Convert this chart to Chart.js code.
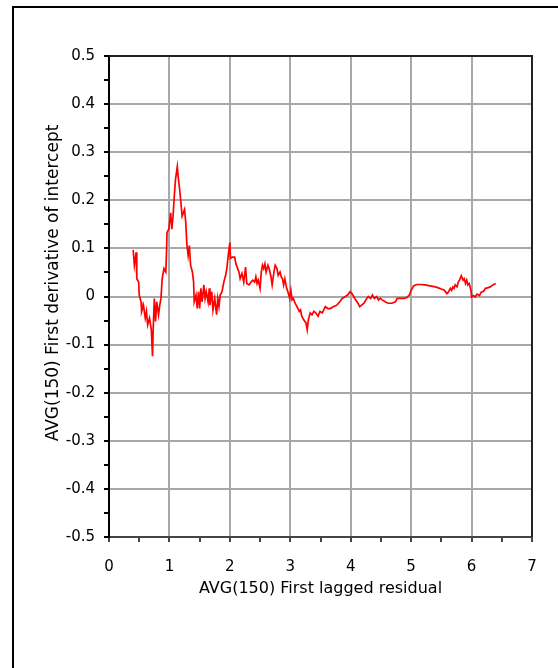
<!DOCTYPE html>
<html lang="en">
<head>
    <meta charset="UTF-8">
    <title>AVG(150) First derivative of intercept</title>
    <script src="https://cdn.jsdelivr.net/npm/chart.js"></script>
    <style>
        html, body { margin: 0; padding: 0; background: #fff; }
        .frame {
            position: absolute; left: 12px; top: 6px;
            width: 700px; height: 800px;
            border-left: 2px solid #000; border-top: 2px solid #000;
        }
        #chart { position: absolute; left: 0; top: 0; }
    </style>
</head>
<body>
    <div class="frame"></div>
    <canvas id="chart" width="558" height="668"></canvas>

    <script>
        // values
        const lagResidual = [
            0.40, 0.42, 0.45, 0.46, 0.49, 0.50, 0.53, 0.54, 0.57, 0.60, 0.62, 0.64, 0.67, 0.70, 0.72, 0.73,
            0.75, 0.77, 0.79, 0.82, 0.84, 0.86, 0.88, 0.91, 0.94, 0.95, 0.96, 0.99, 1.02, 1.04, 1.06, 1.08,
            1.10, 1.13, 1.15, 1.17, 1.19, 1.21, 1.25, 1.27, 1.29, 1.31, 1.33, 1.35, 1.38, 1.40, 1.41, 1.44,
            1.46, 1.48, 1.50, 1.52, 1.54, 1.57, 1.59, 1.61, 1.64, 1.66, 1.67, 1.70, 1.72, 1.75, 1.78, 1.80,
            1.82, 1.84, 1.87, 1.90, 1.93, 1.95, 1.97, 2.00, 2.01, 2.04, 2.08, 2.10, 2.13, 2.15, 2.17, 2.20,
            2.23, 2.26, 2.28, 2.32, 2.35, 2.38, 2.41, 2.43, 2.45, 2.47, 2.50, 2.52, 2.54, 2.56, 2.58, 2.60,
            2.63, 2.65, 2.68, 2.70, 2.73, 2.75, 2.78, 2.80, 2.83, 2.85, 2.87, 2.89, 2.91, 2.94, 2.96, 2.99,
            3.01, 3.03, 3.05, 3.08, 3.11, 3.15, 3.17, 3.19, 3.22, 3.26, 3.28, 3.30, 3.33, 3.36, 3.39, 3.42,
            3.46, 3.49, 3.53, 3.58, 3.62, 3.66, 3.72, 3.77, 3.82, 3.86, 3.91, 3.95, 3.99, 4.02, 4.05, 4.08,
            4.12, 4.15, 4.18, 4.22, 4.25, 4.29, 4.33, 4.36, 4.39, 4.43, 4.46, 4.49, 4.52, 4.57, 4.62, 4.68,
            4.74, 4.77, 4.81, 4.88, 4.93, 4.97, 5.00, 5.04, 5.09, 5.15, 5.23, 5.31, 5.40, 5.45, 5.51, 5.55,
            5.59, 5.62, 5.65, 5.67, 5.69, 5.71, 5.73, 5.76, 5.78, 5.80, 5.83, 5.86, 5.88, 5.90, 5.92, 5.94,
            5.96, 5.99, 6.00, 6.03, 6.06, 6.09, 6.13, 6.16, 6.20, 6.23, 6.26, 6.31, 6.35, 6.40
        ];
        const derivIntercept = [
            0.097, 0.065, 0.092, 0.037, 0.030, 0.003, -0.011, -0.031, -0.018, -0.045, -0.031, -0.059, -0.045, -0.069, -0.124, -0.073,
            -0.004, -0.052, -0.011, -0.038, -0.018, -0.004, 0.037, 0.058, 0.051, 0.085, 0.133, 0.140, 0.174, 0.140, 0.167, 0.208,
            0.243, 0.270, 0.243, 0.222, 0.195, 0.167, 0.181, 0.154, 0.106, 0.085, 0.106, 0.065, 0.051, 0.030, -0.011, 0.003,
            -0.025, 0.010, -0.025, 0.017, -0.011, 0.024, -0.004, 0.010, -0.011, 0.017, -0.018, 0.010, -0.028, -0.004, -0.038, -0.004,
            -0.021, 0.003, 0.010, 0.030, 0.044, 0.058, 0.082, 0.112, 0.079, 0.082, 0.082, 0.068, 0.058, 0.051, 0.037, 0.048,
            0.030, 0.061, 0.027, 0.024, 0.030, 0.034, 0.030, 0.041, 0.027, 0.034, 0.017, 0.051, 0.065, 0.058, 0.068, 0.051,
            0.065, 0.058, 0.041, 0.024, 0.051, 0.065, 0.058, 0.044, 0.051, 0.041, 0.037, 0.024, 0.037, 0.017, 0.010, -0.004,
            0.013, -0.007, -0.004, -0.014, -0.021, -0.031, -0.028, -0.041, -0.048, -0.055, -0.069, -0.048, -0.034, -0.038, -0.031, -0.034,
            -0.041, -0.031, -0.034, -0.021, -0.025, -0.025, -0.021, -0.018, -0.011, -0.004, 0.000, 0.003, 0.010, 0.006, 0.000, -0.007,
            -0.014, -0.021, -0.018, -0.014, -0.007, 0.000, -0.004, 0.003, -0.004, 0.000, -0.007, -0.004, -0.007, -0.011, -0.014, -0.014,
            -0.011, -0.004, -0.004, -0.004, -0.002, 0.003, 0.013, 0.022, 0.025, 0.025, 0.024, 0.022, 0.020, 0.018, 0.015, 0.013,
            0.006, 0.010, 0.017, 0.013, 0.020, 0.017, 0.024, 0.020, 0.030, 0.034, 0.043, 0.034, 0.037, 0.027, 0.034, 0.024,
            0.027, 0.013, -0.001, 0.002, -0.001, 0.005, 0.002, 0.009, 0.011, 0.017, 0.018, 0.020, 0.024, 0.027
        ];
        const xRange = [0, 7];
        const yRange = [-0.5, 0.5];
        const xTitle = 'AVG(150) First lagged residual';
        const yTitle = 'AVG(150) First derivative of intercept';

        const points = lagResidual.map((x, i) => ({ x: x, y: derivIntercept[i] }));
        const family = '"DejaVu Sans", Verdana, sans-serif';
        const tickFont = { family: family, size: 15 };

        // top and right edge of the plot box, plus the vertical axis title
        const plotBox = {
            id: 'plotBox',
            afterDraw(chart) {
                const { ctx, chartArea: a } = chart;
                ctx.save();
                ctx.strokeStyle = '#222';
                ctx.lineWidth = 2;
                ctx.beginPath();
                ctx.moveTo(a.left, a.top);
                ctx.lineTo(a.right, a.top);
                ctx.lineTo(a.right, a.bottom);
                ctx.stroke();

                ctx.translate(54, 283);
                ctx.rotate(-Math.PI / 2);
                ctx.font = '17px ' + family;
                ctx.fillStyle = '#000';
                ctx.textAlign = 'center';
                ctx.textBaseline = 'middle';
                ctx.fillText(yTitle, 0, 0);
                ctx.restore();
            }
        };

        new Chart(document.getElementById('chart'), {
            type: 'scatter',
            data: {
                datasets: [{
                    data: points,
                    showLine: true,
                    borderColor: '#ff0000',
                    borderWidth: 1.7,
                    pointRadius: 0,
                    tension: 0
                }]
            },
            options: {
                responsive: false,
                animation: false,
                layout: { padding: { left: 0, top: 56, right: 26, bottom: 0 } },
                plugins: { legend: { display: false }, tooltip: { enabled: false } },
                scales: {
                    x: {
                        type: 'linear',
                        min: xRange[0], max: xRange[1],
                        afterFit(scale) { scale.height = 131; },
                        ticks: {
                            stepSize: 0.5,
                            autoSkip: false,
                            maxRotation: 0,
                            padding: 16,
                            color: '#000',
                            font: tickFont,
                            callback: v => (Math.round(v * 2) % 2 === 0 ? String(Math.round(v)) : '')
                        },
                        grid: {
                            color: c => (c.tick && Math.round(c.tick.value * 2) % 2 === 0 ? '#a8a8a8' : 'rgba(0,0,0,0)'),
                            lineWidth: 2,
                            tickColor: '#444',
                            tickLength: 5
                        },
                        border: { color: '#444', width: 2 },
                        title: {
                            display: true,
                            text: xTitle,
                            color: '#000',
                            font: { family: family, size: 16 },
                            padding: { top: 0, bottom: 70 }
                        }
                    },
                    y: {
                        type: 'linear',
                        min: yRange[0], max: yRange[1],
                        afterFit(scale) { scale.width = 109; },
                        ticks: {
                            stepSize: 0.05,
                            autoSkip: false,
                            padding: 9,
                            color: '#000',
                            font: tickFont,
                            callback: v => {
                                if (Math.round(v * 20) % 2 !== 0) return '';
                                const r = Math.round(v * 10) / 10;
                                return r === 0 ? '0' : String(r);
                            }
                        },
                        grid: {
                            color: c => (c.tick && Math.round(c.tick.value * 20) % 2 === 0 ? '#a8a8a8' : 'rgba(0,0,0,0)'),
                            lineWidth: 2,
                            tickColor: '#000',
                            tickLength: 5
                        },
                        border: { color: '#000', width: 2 },
                        title: { display: false }
                    }
                }
            },
            plugins: [plotBox]
        });
    </script>
</body>
</html>
